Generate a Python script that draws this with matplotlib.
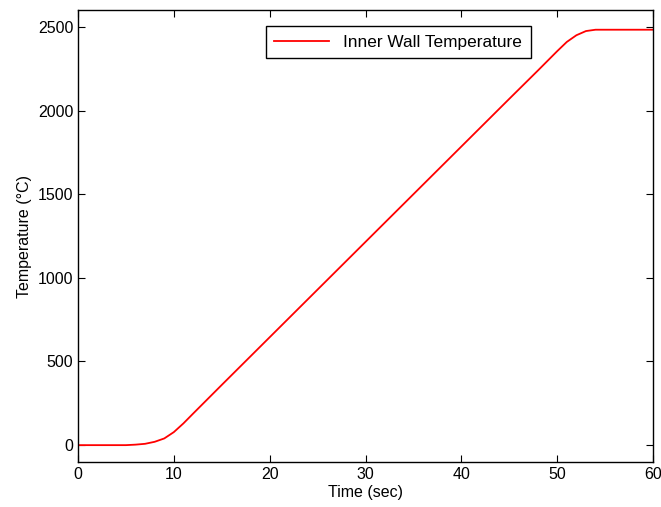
import matplotlib
matplotlib.use("Agg")
import matplotlib.pyplot as plt

# time (s) and inner wall temperature (degC)
time_s = [0, 5, 6, 7, 8, 9, 10, 11, 12, 15, 20, 30, 40, 45, 48, 50, 51, 52, 53, 54, 60]
temp_c = [0, 0, 3, 8, 20, 40, 78, 130, 188, 360, 645, 1215, 1785, 2070, 2240, 2355, 2410, 2450, 2475, 2483, 2483]

plt.rcParams['font.family'] = ['Liberation Sans', 'DejaVu Sans']
fs = 11.5

fig = plt.figure(figsize=(6.61, 5.07), dpi=100)
ax = fig.add_axes([0.118, 0.089, 0.870, 0.891])

ax.plot(time_s, temp_c, color='red', lw=1.3, label='Inner Wall Temperature')

ax.set_xlim(0, 60)
ax.set_ylim(-100, 2600)
ax.set_xticks([0, 10, 20, 30, 40, 50, 60])
ax.set_yticks([0, 500, 1000, 1500, 2000, 2500])
ax.tick_params(direction='in', top=True, right=True, labelsize=fs, length=5)
for s in ax.spines.values():
    s.set_linewidth(1.0)

ax.set_xlabel('Time (sec)', fontsize=fs, labelpad=2)
ax.set_ylabel('Temperature (°C)', fontsize=fs, labelpad=4)

leg = ax.legend(loc='upper right', bbox_to_anchor=(0.787, 0.965), borderaxespad=0,
                fontsize=12.4, fancybox=False, edgecolor='black', framealpha=1,
                handlelength=3.2, borderpad=0.5)
leg.get_frame().set_linewidth(1.0)

fig.savefig('out.png', dpi=100)
